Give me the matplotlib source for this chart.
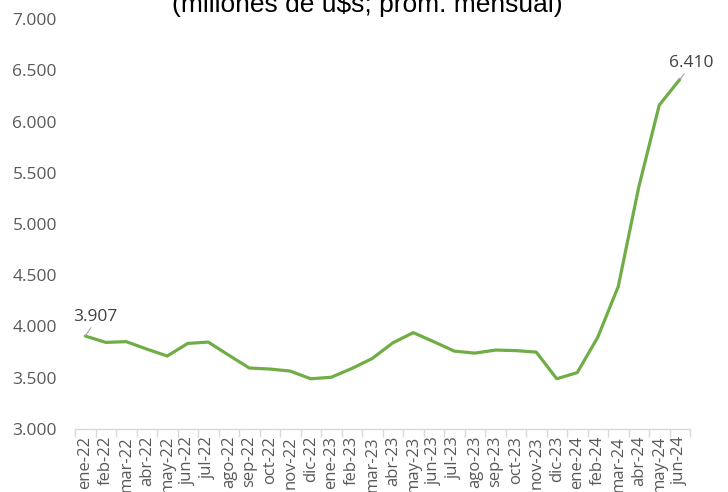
import matplotlib
matplotlib.use("Agg")
import matplotlib.pyplot as plt
import numpy as np

months = ["ene-22", "feb-22", "mar-22", "abr-22", "may-22", "jun-22", "jul-22", "ago-22",
          "sep-22", "oct-22", "nov-22", "dic-22", "ene-23", "feb-23", "mar-23", "abr-23",
          "may-23", "jun-23", "jul-23", "ago-23", "sep-23", "oct-23", "nov-23", "dic-23",
          "ene-24", "feb-24", "mar-24", "abr-24", "may-24", "jun-24"]
values = [3907, 3845, 3852, 3780, 3712, 3835, 3848, 3720, 3595, 3585, 3565, 3490,
          3505, 3590, 3688, 3840, 3940, 3852, 3760, 3740, 3770, 3765, 3750, 3490,
          3550, 3895, 4390, 5360, 6160, 6410]
y_ticks = [3000, 3500, 4000, 4500, 5000, 5500, 6000, 6500, 7000]
title = "(millones de u$s; prom. mensual)"

def fmt(v):
    return f"{v:,.0f}".replace(",", ".")

fig = plt.figure(figsize=(7.28, 4.92), dpi=100)
ax = fig.add_axes([75/728, 1-429/492, 615/728, 410/492])

x = np.arange(len(months))
ax.plot(x, values, color="#70AD47", lw=2.3, solid_joinstyle="round", solid_capstyle="round")

ax.set_xlim(-0.5, len(months) - 0.5)
ax.set_ylim(3000, 7000)
ax.set_yticks(y_ticks)
ax.set_yticklabels([fmt(v) for v in y_ticks], fontfamily="Open Sans", fontsize=12.5, color="#595959")
ax.tick_params(axis="y", length=0, pad=13)

ax.set_xticks(x)
ax.set_xticklabels(months, rotation=90, fontfamily="Open Sans", fontsize=12, color="#595959",
                   va="top", ha="center")
ax.set_xticks(np.arange(-0.5, len(months)), minor=True)
ax.tick_params(axis="x", which="major", length=0, pad=5)
ax.tick_params(axis="x", which="minor", length=6, color="#D9D9D9", width=1)

for s in ["left", "right", "top"]:
    ax.spines[s].set_visible(False)
ax.spines["bottom"].set_color("#D9D9D9")
ax.spines["bottom"].set_linewidth(1)

# data labels with leader lines
ax.annotate(fmt(values[0]), xy=(0, values[0]), xytext=(7, 8), textcoords="offset points",
            fontfamily="Open Sans", fontsize=12.5, color="#404040", ha="center", va="bottom",
            arrowprops=dict(arrowstyle="-", color="#A6A6A6", lw=0.8, shrinkA=0, shrinkB=0,
                            relpos=(0.45, 0.0)))
ax.annotate(fmt(values[-1]), xy=(len(months) - 1, values[-1]), xytext=(-8, 6), textcoords="offset points",
            fontfamily="Open Sans", fontsize=12.5, color="#404040", ha="left", va="bottom",
            arrowprops=dict(arrowstyle="-", color="#A6A6A6", lw=0.8, shrinkA=0, shrinkB=0,
                            relpos=(0.4, 0.0)))

fig.text(367/728, 1 - 12/492, title, fontfamily="Liberation Sans", fontsize=19, color="#000000",
         ha="center", va="baseline")

fig.savefig("out.png", dpi=100)
